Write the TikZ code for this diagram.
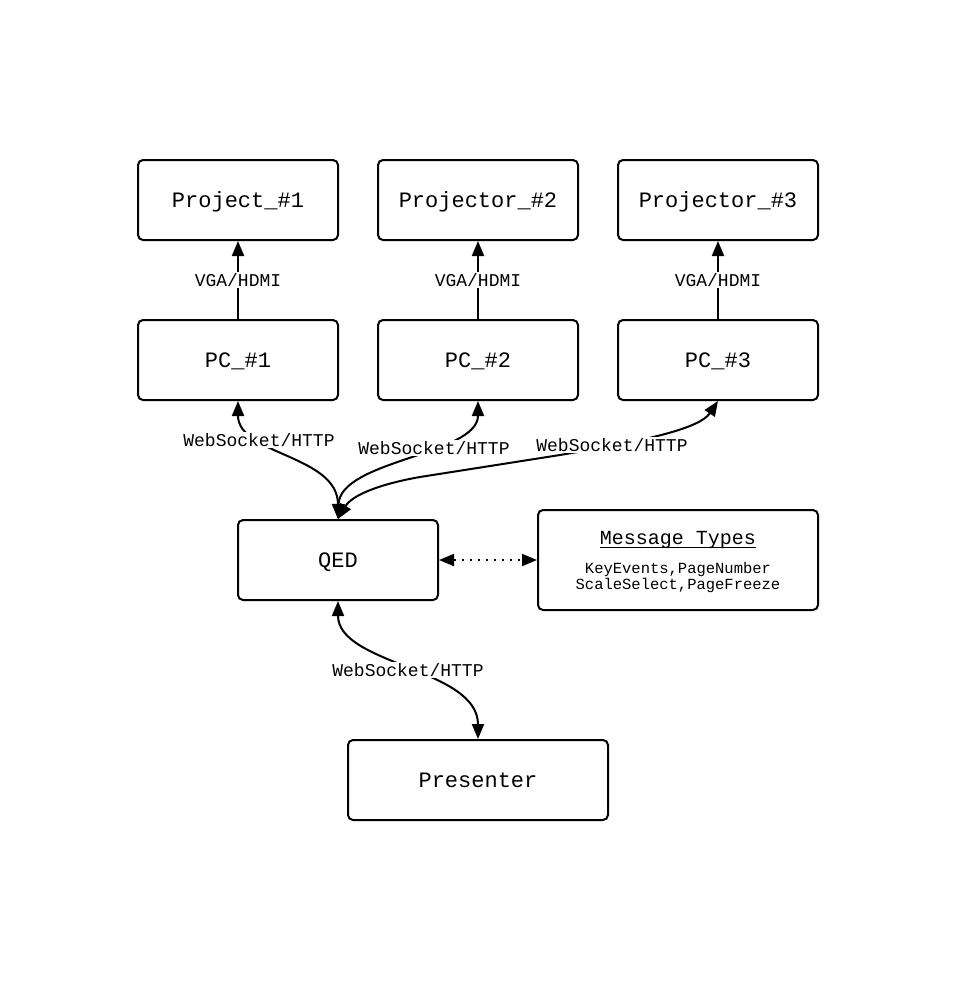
\documentclass[tikz,border=0pt]{standalone}
\usepackage{fontspec}
\setmainfont{Liberation Mono}
\setmonofont{Liberation Mono}
\usetikzlibrary{arrows.meta}
\begin{document}
\begin{tikzpicture}[x=1pt,y=-1pt,
  box/.style={draw,line width=2pt,rounded corners=5pt,inner sep=0pt,text depth=0pt,font=\fontsize{22}{26}\selectfont},
  tip/.style={Triangle[length=15pt,width=12pt]},
  conn/.style={line width=2pt,-{Triangle[length=15pt,width=12pt]}},
  biconn/.style={line width=2pt,{Triangle[length=15pt,width=12pt]}-{Triangle[length=15pt,width=12pt]}},
  lbl/.style={fill=white,inner sep=1pt,font=\fontsize{18}{20}\selectfont}]
\useasboundingbox (0,0) rectangle (956,1005);
\fill[white] (0,0) rectangle (956,1005);
% boxes
\node[box,minimum width=200pt,minimum height=80pt] (prj1) at (238,200) {Project\_\#1};
\node[box,minimum width=200pt,minimum height=80pt] (prj2) at (478,200) {Projector\_\#2};
\node[box,minimum width=200pt,minimum height=80pt] (prj3) at (718,200) {Projector\_\#3};
\node[box,minimum width=200pt,minimum height=80pt] (pc1) at (238,360) {PC\_\#1};
\node[box,minimum width=200pt,minimum height=80pt] (pc2) at (478,360) {PC\_\#2};
\node[box,minimum width=200pt,minimum height=80pt] (pc3) at (718,360) {PC\_\#3};
\node[box,minimum width=200pt,minimum height=80pt] (qed) at (338,560) {QED};
\node[box,minimum width=280pt,minimum height=100pt] (msg) at (678,560) {};
\node[font=\fontsize{20}{22}\selectfont,inner sep=0pt] (msgt) at (678,540) {Message Types};
\draw[line width=1pt] ([yshift=1.5pt]msgt.south west) -- ([yshift=1.5pt]msgt.south east);
\node[font=\fontsize{15.5}{16}\selectfont,inner sep=0pt,align=center] (msgc) at (678,577) {KeyEvents,PageNumber\\ScaleSelect,PageFreeze};
\node[box,minimum width=260pt,minimum height=80pt] (pres) at (478,780) {Presenter};
% vertical connectors
\draw[conn] (pc1.north) -- (prj1.south);
\draw[conn] (pc2.north) -- (prj2.south);
\draw[conn] (pc3.north) -- (prj3.south);
\node[lbl] (v1) at (238,280) {VGA/HDMI};
\node[lbl] (v2) at (478,280) {VGA/HDMI};
\node[lbl] (v3) at (718,280) {VGA/HDMI};
% QED to PCs
\draw[biconn] (qed.north) .. controls (338,455) and (238,455) .. (pc1.south);
\draw[biconn] (qed.north) .. controls (340,460) and (478,455) .. (pc2.south);
\draw[biconn] (qed.north) .. controls (352,495) and (380,484) .. (420,477) -- (560,455) .. controls (650,440) and (700,428) .. (pc3.south);
\node[lbl] (w1) at (259,440) {WebSocket/HTTP};
\node[lbl] (w2) at (434,448) {WebSocket/HTTP};
\node[lbl] (w3) at (612,445) {WebSocket/HTTP};
% QED to presenter
\draw[biconn] (qed.south) .. controls (338,665) and (478,668) .. (pres.north);
\node[lbl] (w4) at (408,670) {WebSocket/HTTP};
% dotted
\draw[line width=2pt,dash pattern=on 2pt off 6pt,{Triangle[length=15pt,width=12pt]}-{Triangle[length=15pt,width=12pt]}] (qed.east) -- (msg.west);
\end{tikzpicture}
\end{document}
